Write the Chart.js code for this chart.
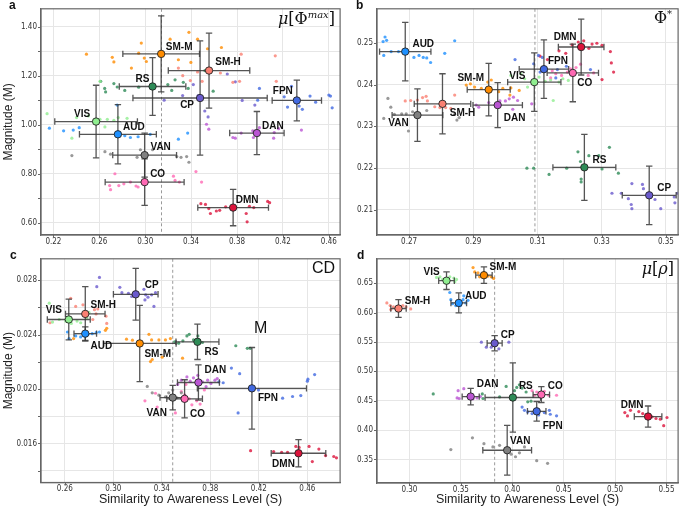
<!DOCTYPE html>
<html>
<head>
<meta charset="utf-8">
<script src="https://cdn.jsdelivr.net/npm/chart.js@4.4.0/dist/chart.umd.min.js"></script>
<style>
body { margin: 0; background: #fff; width: 683px; height: 509px; position: relative; overflow: hidden; font-family: "Liberation Sans", Arial, sans-serif; }
canvas { position: absolute; }
.tag { position: absolute; line-height: 1; color: #111; white-space: nowrap; }
.letter { font-weight: bold; font-size: 12px; }
.serif { font-family: "DejaVu Serif", serif; font-size: 16px; }
.sans { font-size: 16px; }
</style>
</head>
<body>
<canvas id="pa" width="345" height="250" style="left:0;top:0"></canvas>
<canvas id="pb" width="338" height="250" style="left:345px;top:0"></canvas>
<canvas id="pc" width="345" height="259" style="left:0;top:250px"></canvas>
<canvas id="pd" width="338" height="259" style="left:345px;top:250px"></canvas>

<div class="tag letter" style="left:9px;top:-1px">a</div>
<div class="tag letter" style="left:356px;top:-1px">b</div>
<div class="tag letter" style="left:10px;top:249px">c</div>
<div class="tag letter" style="left:357px;top:249px">d</div>
<div class="tag serif" style="right:348px;top:10px"><i>μ</i>[Φ<sup style="font-size:10px"><i>max</i></sup>]</div>
<div class="tag serif" style="right:11px;top:9px">Φ<sup style="font-size:10px">*</sup></div>
<div class="tag sans" style="right:348px;top:260px">CD</div>
<div class="tag sans" style="left:254px;top:320px">M</div>
<div class="tag serif" style="right:9px;top:261px"><i>μ</i>[<i>ρ</i>]</div>

<script>
const nets = ['VIS', 'AUD', 'SM-M', 'SM-H', 'RS', 'CP', 'FPN', 'DAN', 'VAN', 'CO', 'DMN'];
const netColors = ['#90ee90', '#1e90ff', '#ff8c00', '#fa8072', '#2e8b57', '#6a5acd', '#4169e1', '#ba55d3', '#808080', '#ff69b4', '#dc143c'];

// panel a: mu[Phi max]
const aX = [0.2572, 0.2762, 0.3139, 0.3556, 0.3064, 0.3478, 0.4321, 0.3973, 0.2995, 0.2995, 0.3766];
const aY = [1.013, 0.961, 1.289, 1.221, 1.156, 1.109, 1.099, 0.966, 0.876, 0.766, 0.662];
const aXErr = [0.036, 0.0335, 0.0334, 0.0355, 0.029, 0.0585, 0.0215, 0.0237, 0.0278, 0.0344, 0.0308];
const aYErr = [0.148, 0.121, 0.155, 0.153, 0.118, 0.233, 0.083, 0.088, 0.09, 0.095, 0.074];
const aXTicks = [0.22, 0.26, 0.30, 0.34, 0.38, 0.42, 0.46];
const aYTicks = [0.60, 0.70, 0.80, 0.90, 1.00, 1.10, 1.20, 1.30, 1.40];
const aYLabels = [0.60, 0.80, 1.00, 1.20, 1.40];
const aAware = 0.3142;
const aDots = {
    'VIS': [[0.2145, 1.045], [0.2361, 0.945], [0.2402, 1.029], [0.2505, 1.036], [0.2606, 1.022], [0.2649, 0.991], [0.267, 1.022], [0.2727, 1.018], [0.2765, 1.029], [0.2842, 1.026], [0.2606, 1.177]],
    'AUD': [[0.2165, 0.986], [0.2289, 0.975], [0.2373, 0.978], [0.2425, 0.988], [0.2756, 1.080], [0.2822, 0.955], [0.2871, 0.948], [0.2938, 0.951], [0.3044, 0.961], [0.337, 0.966], [0.3289, 0.941]],
    'SM-M': [[0.2488, 1.288], [0.2713, 1.275], [0.2727, 1.256], [0.288, 1.231], [0.2966, 1.333], [0.2943, 1.292], [0.2992, 1.272], [0.301, 1.258], [0.3217, 1.349], [0.3289, 1.265], [0.3381, 1.377], [0.3456, 1.349], [0.3543, 1.310], [0.3664, 1.315], [0.3398, 1.254]],
    'SM-H': [[0.3327, 1.200], [0.3393, 1.180], [0.3456, 1.215], [0.3496, 1.177], [0.3655, 1.211], [0.3764, 1.173], [0.3836, 1.288], [0.3822, 1.177], [0.4133, 1.281], [0.4142, 1.177], [0.3289, 1.231]],
    'RS': [[0.2612, 1.177], [0.2647, 1.148], [0.2655, 1.134], [0.2727, 1.168], [0.2756, 1.154], [0.2822, 1.140], [0.2943, 1.153], [0.3197, 1.164], [0.3231, 1.140], [0.326, 1.183], [0.3332, 1.173], [0.3375, 1.148], [0.3592, 1.137], [0.352, 1.221]],
    'CP': [[0.3165, 1.100], [0.3326, 1.119], [0.3419, 1.164], [0.3462, 1.119], [0.3519, 1.056], [0.3548, 1.032], [0.3715, 1.207], [0.3785, 1.175], [0.3845, 1.099], [0.3955, 1.080]],
    'FPN': [[0.3995, 1.148], [0.398, 1.100], [0.4211, 1.114], [0.4274, 1.157], [0.424, 1.072], [0.4341, 1.076], [0.4369, 1.063], [0.4436, 1.117], [0.4485, 1.092], [0.46, 1.121], [0.4629, 1.069], [0.4614, 1.117]],
    'DAN': [[0.3534, 1.002], [0.3554, 0.982], [0.3764, 0.948], [0.3785, 0.945], [0.3836, 0.966], [0.3937, 0.975], [0.3995, 0.988], [0.4124, 0.968], [0.4162, 0.984], [0.4119, 0.945], [0.4361, 0.978], [0.3943, 0.948]],
    'VAN': [[0.2361, 0.874], [0.2649, 0.890], [0.2698, 0.880], [0.2958, 0.898], [0.3064, 0.898], [0.3275, 0.870], [0.3312, 0.867], [0.3361, 0.870], [0.3381, 0.847], [0.2929, 0.867]],
    'CO': [[0.2736, 0.800], [0.269, 0.752], [0.2698, 0.735], [0.277, 0.752], [0.2814, 0.759], [0.2871, 0.766], [0.292, 0.750], [0.2938, 0.746], [0.3246, 0.790], [0.326, 0.773], [0.3298, 0.766], [0.3442, 0.809], [0.3491, 0.766]],
    'DMN': [[0.3485, 0.678], [0.3525, 0.675], [0.3554, 0.658], [0.3568, 0.638], [0.362, 0.648], [0.3649, 0.651], [0.3701, 0.665], [0.388, 0.638], [0.3888, 0.604], [0.3908, 0.667], [0.3946, 0.662], [0.4067, 0.687], [0.4084, 0.682]]
};
const aLabelOff = [[-14, -7], [16, -7], [18, -7], [19, -8], [-10, -7], [-13, 7], [-14, -9], [16, -7], [16, -8], [13, -8], [14, -7]];

// panel b: Phi*
const bX = [0.309, 0.2688, 0.2948, 0.2804, 0.3246, 0.3448, 0.312, 0.2976, 0.2726, 0.321, 0.3236];
const bY = [0.2406, 0.2479, 0.2388, 0.2354, 0.2202, 0.2135, 0.2437, 0.2351, 0.2327, 0.2428, 0.249];
const bXErr = [0.0083, 0.008, 0.0067, 0.0088, 0.0098, 0.0084, 0.0077, 0.0077, 0.0079, 0.008, 0.0071];
const bYErr = [0.007, 0.007, 0.0063, 0.0072, 0.0079, 0.007, 0.007, 0.0054, 0.0063, 0.0069, 0.0067];
const bXTicks = [0.27, 0.29, 0.31, 0.33, 0.35];
const bYTicks = [0.21, 0.22, 0.23, 0.24, 0.25];
const bYLabels = bYTicks;
const bAware = 0.3092;
const bDots = {
    'VIS': [[0.3017, 0.2422], [0.3048, 0.2426], [0.306, 0.2414], [0.3069, 0.2394], [0.3105, 0.2418], [0.3124, 0.2408], [0.3141, 0.2411], [0.3149, 0.2362], [0.3167, 0.2406], [0.3179, 0.2414], [0.3196, 0.241]],
    'AUD': [[0.2619, 0.2503], [0.2625, 0.2514], [0.263, 0.2506], [0.2621, 0.247], [0.2644, 0.2479], [0.2667, 0.2479], [0.2715, 0.2465], [0.2731, 0.247], [0.2744, 0.2465], [0.2755, 0.2464], [0.2767, 0.2453], [0.2811, 0.2475], [0.2842, 0.2505]],
    'SM-M': [[0.2878, 0.2399], [0.2891, 0.2402], [0.2904, 0.2394], [0.2925, 0.2391], [0.2945, 0.2406], [0.2956, 0.2411], [0.2979, 0.2383], [0.2992, 0.2391], [0.3017, 0.2392], [0.3043, 0.2386], [0.3014, 0.2375]],
    'SM-H': [[0.2688, 0.2361], [0.2705, 0.2362], [0.2726, 0.2363], [0.2742, 0.2369], [0.2753, 0.2372], [0.2757, 0.2361], [0.278, 0.2347], [0.2796, 0.2345], [0.2814, 0.2345], [0.283, 0.2343], [0.2842, 0.2375]],
    'RS': [[0.3067, 0.22], [0.3088, 0.22], [0.3136, 0.2185], [0.3191, 0.22], [0.3226, 0.2239], [0.3234, 0.2216], [0.3236, 0.2174], [0.3236, 0.2167], [0.326, 0.223], [0.3291, 0.223], [0.3301, 0.2198], [0.3324, 0.225], [0.3352, 0.2188]],
    'CP': [[0.3332, 0.214], [0.3361, 0.214], [0.3383, 0.2127], [0.3392, 0.2113], [0.3394, 0.2103], [0.3394, 0.2163], [0.3427, 0.2161], [0.343, 0.2151], [0.3466, 0.2125], [0.3484, 0.2103], [0.3526, 0.2131], [0.3528, 0.2117], [0.3536, 0.214]],
    'FPN': [[0.303, 0.246], [0.3088, 0.245], [0.3103, 0.247], [0.3115, 0.2465], [0.3162, 0.2436], [0.319, 0.2444], [0.3265, 0.2436], [0.3108, 0.243], [0.3157, 0.2416]],
    'DAN': [[0.2909, 0.2351], [0.2917, 0.2346], [0.2948, 0.2357], [0.2971, 0.2353], [0.2983, 0.2361], [0.3, 0.2361], [0.3012, 0.2366], [0.3025, 0.237], [0.3038, 0.2362], [0.3023, 0.2341], [0.3082, 0.2354]],
    'VAN': [[0.2634, 0.2367], [0.2643, 0.2346], [0.2621, 0.2319], [0.2654, 0.2329], [0.2677, 0.233], [0.2691, 0.233], [0.2698, 0.2289], [0.2711, 0.2335], [0.2755, 0.2338], [0.2842, 0.2329], [0.2849, 0.2315], [0.2856, 0.2321]],
    'CO': [[0.3146, 0.2433], [0.3157, 0.2426], [0.3175, 0.2422], [0.3193, 0.243], [0.322, 0.2441], [0.3234, 0.2449], [0.3258, 0.2422], [0.3275, 0.2428], [0.3141, 0.2416], [0.3203, 0.2438]],
    'DMN': [[0.3108, 0.2468], [0.3131, 0.246], [0.3167, 0.2481], [0.3188, 0.2475], [0.3208, 0.2495], [0.3227, 0.2502], [0.3244, 0.2505], [0.326, 0.2487], [0.327, 0.2497], [0.3285, 0.2499], [0.3301, 0.2494], [0.3327, 0.2479], [0.333, 0.2452], [0.3337, 0.243], [0.3301, 0.2412]]
};
const bLabelOff = [[-17, -6], [18, -7], [-18, -11], [20, 9], [15, -7], [15, -7], [14, -8], [17, 13], [-19, 8], [12, 10], [-16, -10]];

// panel c: CD
const cX = [0.2633, 0.2769, 0.3218, 0.2769, 0.3694, 0.3185, 0.4143, 0.3702, 0.349, 0.3588, 0.4527];
const cY = [0.02511, 0.02407, 0.02335, 0.02552, 0.02347, 0.02696, 0.02005, 0.02048, 0.01937, 0.01928, 0.01528];
const cXErr = [0.0177, 0.0093, 0.03, 0.0163, 0.0177, 0.0184, 0.045, 0.0173, 0.0105, 0.0147, 0.0225];
const cYErr = [0.0015, 0.0005, 0.0028, 0.002, 0.0013, 0.0019, 0.003, 0.0013, 0.0009, 0.0014, 0.001];
const cXTicks = [0.26, 0.30, 0.34, 0.38, 0.42, 0.46];
const cYTicks = [0.014, 0.016, 0.018, 0.020, 0.022, 0.024, 0.026, 0.028];
const cYLabels = [0.016, 0.020, 0.024, 0.028];
const cAware = 0.349;
const cDots = {
    'VIS': [[0.2472, 0.02631], [0.2499, 0.02492], [0.2554, 0.02511], [0.2608, 0.02499], [0.2654, 0.02482], [0.2701, 0.02499], [0.2731, 0.02487], [0.2799, 0.02564], [0.2782, 0.02523]],
    'AUD': [[0.2622, 0.02419], [0.2635, 0.02371], [0.269, 0.0239], [0.2731, 0.02383], [0.2791, 0.02402], [0.2826, 0.02407], [0.2859, 0.02414], [0.2886, 0.02419]],
    'SM-M': [[0.2673, 0.02371], [0.2935, 0.02431], [0.2946, 0.02446], [0.3109, 0.02366], [0.3158, 0.02359], [0.3294, 0.02402], [0.3316, 0.02361], [0.3307, 0.02202], [0.3321, 0.02217], [0.3376, 0.02361], [0.343, 0.02361], [0.3471, 0.02371], [0.3571, 0.02227], [0.3403, 0.02234]],
    'SM-H': [[0.2649, 0.02667], [0.269, 0.02607], [0.275, 0.02619], [0.2845, 0.02583], [0.2872, 0.02588], [0.2858, 0.02552], [0.294, 0.02535], [0.2946, 0.02482], [0.2478, 0.02487], [0.2831, 0.02511]],
    'RS': [[0.3506, 0.02347], [0.3539, 0.02337], [0.3574, 0.02354], [0.3607, 0.0239], [0.3626, 0.02402], [0.3661, 0.02361], [0.3697, 0.0239], [0.3735, 0.02342], [0.401, 0.02318], [0.4105, 0.02299], [0.4129, 0.02299]],
    'CP': [[0.2886, 0.0282], [0.2864, 0.02752], [0.3054, 0.02747], [0.3071, 0.02708], [0.3125, 0.02704], [0.3152, 0.0268], [0.3253, 0.02733], [0.3267, 0.02692], [0.3286, 0.02675], [0.3316, 0.02692], [0.3335, 0.02607], [0.3348, 0.02708], [0.3261, 0.02655]],
    'FPN': [[0.3871, 0.02053], [0.3906, 0.02046], [0.3974, 0.02154], [0.4042, 0.02113], [0.4029, 0.01824], [0.4197, 0.01993], [0.4396, 0.01933], [0.4478, 0.01945], [0.4546, 0.01952], [0.46, 0.02058], [0.4605, 0.02072], [0.466, 0.02106]],
    'DAN': [[0.3531, 0.02034], [0.3561, 0.02065], [0.3607, 0.02089], [0.3634, 0.02058], [0.3661, 0.02082], [0.3697, 0.02101], [0.3735, 0.02053], [0.3778, 0.02065], [0.3805, 0.02041], [0.3838, 0.02065], [0.3857, 0.02077], [0.3765, 0.02017]],
    'VAN': [[0.328, 0.02019], [0.3321, 0.01972], [0.3376, 0.01955], [0.343, 0.01943], [0.3457, 0.01972], [0.349, 0.01992], [0.3525, 0.01936], [0.3561, 0.01972]],
    'CO': [[0.3261, 0.01913], [0.3348, 0.01969], [0.3362, 0.01867], [0.3512, 0.01824], [0.3561, 0.01981], [0.3588, 0.01957], [0.3626, 0.01928], [0.3648, 0.01884], [0.3688, 0.01913], [0.3716, 0.01889], [0.3599, 0.02034], [0.3751, 0.01993]],
    'DMN': [[0.4132, 0.01547], [0.4322, 0.0154], [0.4388, 0.01535], [0.4437, 0.01535], [0.4505, 0.01578], [0.4532, 0.01571], [0.4614, 0.01578], [0.4641, 0.01467], [0.4695, 0.01559], [0.475, 0.01511], [0.4818, 0.01504], [0.484, 0.01494]]
};
const cLabelOff = [[-15, -9], [16, 13], [18, 11], [18, -9], [14, 10], [16, -9], [16, 10], [17, -12], [-16, 16], [13, 15], [-15, 11]];

// panel d: mu[rho]
const dX = [0.3361, 0.348, 0.3725, 0.2894, 0.4006, 0.3829, 0.4238, 0.3596, 0.3951, 0.4283, 0.5321];
const dY = [0.6545, 0.6166, 0.6639, 0.6071, 0.4555, 0.548, 0.432, 0.4571, 0.3657, 0.4605, 0.4231];
const dXErr = [0.0076, 0.0076, 0.008, 0.0075, 0.027, 0.0073, 0.009, 0.0083, 0.0237, 0.008, 0.0134];
const dYErr = [0.015, 0.017, 0.014, 0.015, 0.059, 0.013, 0.0167, 0.014, 0.0424, 0.0135, 0.018];
const dXTicks = [0.30, 0.35, 0.40, 0.45, 0.50, 0.55];
const dYTicks = [0.35, 0.40, 0.45, 0.50, 0.55, 0.60, 0.65];
const dYLabels = dYTicks;
const dAware = 0.3829;
const dDots = {
    'VIS': [[0.3264, 0.66], [0.3297, 0.6611], [0.3322, 0.6567], [0.3393, 0.6611], [0.3432, 0.6589], [0.3458, 0.6567], [0.3442, 0.6528]],
    'AUD': [[0.3393, 0.6344], [0.3403, 0.6221], [0.3419, 0.6154], [0.3451, 0.6121], [0.3496, 0.6121], [0.3522, 0.6221], [0.3548, 0.6166], [0.357, 0.621], [0.3529, 0.6288]],
    'SM-M': [[0.3619, 0.6768], [0.3635, 0.6695], [0.3667, 0.6678], [0.3683, 0.6611], [0.3764, 0.6623], [0.3796, 0.6611], [0.3819, 0.6584]],
    'SM-H': [[0.2781, 0.6166], [0.2813, 0.6121], [0.2845, 0.6099], [0.2871, 0.6054], [0.2936, 0.6121], [0.2968, 0.6099], [0.3013, 0.6065], [0.2819, 0.6054]],
    'RS': [[0.3232, 0.4616], [0.3709, 0.4616], [0.3716, 0.4538], [0.3877, 0.4566], [0.3941, 0.4744], [0.4044, 0.4727], [0.407, 0.4772], [0.4096, 0.4716], [0.4135, 0.4649], [0.4151, 0.4482], [0.4183, 0.4493], [0.4022, 0.4672]],
    'CP': [[0.37, 0.5497], [0.3748, 0.5413], [0.3796, 0.5413], [0.387, 0.5385], [0.3967, 0.5497], [0.3845, 0.5452]],
    'FPN': [[0.4096, 0.4393], [0.4119, 0.4337], [0.4151, 0.4309], [0.4193, 0.4282], [0.4257, 0.4259], [0.4312, 0.4298], [0.4361, 0.4337], [0.437, 0.427], [0.4431, 0.4243]],
    'DAN': [[0.3474, 0.4672], [0.3464, 0.4549], [0.3484, 0.4538], [0.3529, 0.4705], [0.3571, 0.4577], [0.3619, 0.4532], [0.3658, 0.4549], [0.369, 0.4571]],
    'VAN': [[0.3403, 0.3668], [0.3613, 0.3869], [0.3725, 0.3769], [0.3812, 0.3713], [0.3941, 0.3657], [0.399, 0.359], [0.4032, 0.3546], [0.407, 0.3613], [0.4119, 0.3713], [0.4238, 0.3479], [0.4344, 0.3434], [0.3877, 0.3741]],
    'CO': [[0.4193, 0.4672], [0.4238, 0.4649], [0.428, 0.4616], [0.4312, 0.466], [0.4354, 0.4594], [0.4431, 0.4594], [0.4215, 0.4594]],
    'DMN': [[0.5095, 0.4298], [0.5121, 0.4242], [0.515, 0.4337], [0.5231, 0.4315], [0.5269, 0.4282], [0.536, 0.4226], [0.5398, 0.4198], [0.544, 0.4187], [0.5473, 0.4075], [0.5505, 0.4215]]
};
const dLabelOff = [[-15, -8], [17, -7], [19, -8], [19, -7], [13, -11], [13, -8], [16, 15], [17, -12], [13, -9], [14, -8], [-16, -11]];

const tickFont = { family: '"DejaVu Sans Condensed", "DejaVu Sans", sans-serif', size: 8 };
const titleFamily = '"Liberation Sans", Arial, sans-serif';

function withAlpha(hex, a) {
    const n = parseInt(hex.slice(1), 16);
    return `rgba(${(n >> 16) & 255}, ${(n >> 8) & 255}, ${n & 255}, ${a})`;
}

function extrasPlugin(p) {
    return {
        id: 'extras',
        beforeDatasetsDraw(chart) {
            const { ctx, chartArea, scales } = chart;
            const px = scales.x.getPixelForValue(p.aware);
            ctx.save();
            ctx.strokeStyle = '#9a9a9a';
            ctx.lineWidth = 1;
            ctx.setLineDash([3, 2.5]);
            ctx.beginPath();
            ctx.moveTo(px, chartArea.top);
            ctx.lineTo(px, chartArea.bottom);
            ctx.stroke();
            ctx.restore();
        },
        beforeDatasetDraw(chart, args) {
            if (args.index !== 0) return;
            const { ctx, scales } = chart;
            const cap = 3.2;
            ctx.save();
            ctx.strokeStyle = 'rgba(55, 55, 55, 0.85)';
            ctx.lineWidth = 1.3;
            p.x.forEach((xv, i) => {
                const cx = scales.x.getPixelForValue(xv);
                const cy = scales.y.getPixelForValue(p.y[i]);
                const x0 = scales.x.getPixelForValue(xv - p.xErr[i]);
                const x1 = scales.x.getPixelForValue(xv + p.xErr[i]);
                const y0 = scales.y.getPixelForValue(p.y[i] - p.yErr[i]);
                const y1 = scales.y.getPixelForValue(p.y[i] + p.yErr[i]);
                ctx.beginPath();
                ctx.moveTo(x0, cy); ctx.lineTo(x1, cy);
                ctx.moveTo(x0, cy - cap); ctx.lineTo(x0, cy + cap);
                ctx.moveTo(x1, cy - cap); ctx.lineTo(x1, cy + cap);
                ctx.moveTo(cx, y0); ctx.lineTo(cx, y1);
                ctx.moveTo(cx - cap, y0); ctx.lineTo(cx + cap, y0);
                ctx.moveTo(cx - cap, y1); ctx.lineTo(cx + cap, y1);
                ctx.stroke();
            });
            ctx.restore();
        },
        afterDatasetsDraw(chart) {
            const { ctx, chartArea, scales } = chart;
            ctx.save();
            ctx.font = 'bold 10px "Liberation Sans", Arial, sans-serif';
            ctx.fillStyle = '#111';
            ctx.textAlign = 'center';
            ctx.textBaseline = 'middle';
            nets.forEach((name, i) => {
                const cx = scales.x.getPixelForValue(p.x[i]);
                const cy = scales.y.getPixelForValue(p.y[i]);
                ctx.fillText(name, cx + p.labelOff[i][0], cy + p.labelOff[i][1]);
            });
            // frame and small outward tick marks
            ctx.strokeStyle = '#666';
            ctx.lineWidth = 1.2;
            ctx.strokeRect(chartArea.left, chartArea.top, chartArea.right - chartArea.left, chartArea.bottom - chartArea.top);
            ctx.lineWidth = 1;
            ctx.beginPath();
            scales.x.ticks.forEach(t => {
                const px = Math.round(scales.x.getPixelForValue(t.value)) + 0.5;
                ctx.moveTo(px, chartArea.bottom);
                ctx.lineTo(px, chartArea.bottom + 3);
            });
            scales.y.ticks.forEach(t => {
                const py = Math.round(scales.y.getPixelForValue(t.value)) + 0.5;
                ctx.moveTo(chartArea.left, py);
                ctx.lineTo(chartArea.left - 3, py);
            });
            ctx.stroke();
            ctx.restore();
        }
    };
}

function makePanel(id, p) {
    const datasets = [{
        data: p.x.map((x, i) => ({ x: x, y: p.y[i] })),
        pointRadius: 3.7,
        pointBackgroundColor: netColors,
        pointBorderColor: '#222',
        pointBorderWidth: 0.9,
        showLine: false
    }];
    nets.forEach((name, i) => {
        datasets.push({
            data: p.dots[name].map(d => ({ x: d[0], y: d[1] })),
            pointRadius: 1.6,
            pointBackgroundColor: withAlpha(netColors[i], 0.8),
            pointBorderWidth: 0,
            showLine: false
        });
    });

    new Chart(document.getElementById(id), {
        type: 'scatter',
        data: { datasets: datasets },
        options: {
            responsive: false,
            animation: false,
            devicePixelRatio: 1,
            layout: { padding: { top: p.padTop, right: p.padRight, left: 0, bottom: 0 } },
            plugins: { legend: { display: false }, tooltip: { enabled: false } },
            scales: {
                x: {
                    type: 'linear',
                    min: p.xMin,
                    max: p.xMax,
                    afterBuildTicks: s => { s.ticks = p.xTicks.map(v => ({ value: v })); },
                    afterFit: s => { s.height = p.xHeight; },
                    ticks: { font: tickFont, color: '#333', padding: 2, maxRotation: 0, autoSkip: false, callback: v => v.toFixed(p.xDigits) },
                    grid: { color: '#e6e6e6', drawTicks: false },
                    border: { color: '#666', width: 1.2 },
                    title: { display: !!p.xTitle, text: p.xTitle, font: { family: titleFamily, size: 12.5 }, color: '#222', padding: { top: 2, bottom: 2 } }
                },
                y: {
                    type: 'linear',
                    min: p.yMin,
                    max: p.yMax,
                    afterBuildTicks: s => { s.ticks = p.yTicks.map(v => ({ value: v })); },
                    afterFit: s => { s.width = p.yWidth; },
                    ticks: {
                        font: tickFont, color: '#333', padding: 4, autoSkip: false,
                        callback: v => p.yLabels.some(l => Math.abs(l - v) < 1e-9) ? v.toFixed(p.yDigits) : ''
                    },
                    grid: { color: '#e6e6e6', drawTicks: false },
                    border: { color: '#666', width: 1.2 },
                    title: { display: !!p.yTitle, text: p.yTitle, font: { family: titleFamily, size: 12 }, color: '#222', padding: { top: 1, bottom: 2 } }
                }
            }
        },
        plugins: [extrasPlugin(p)]
    });
}

makePanel('pa', {
    x: aX, y: aY, xErr: aXErr, yErr: aYErr, dots: aDots, labelOff: aLabelOff, aware: aAware,
    xMin: 0.2092, xMax: 0.4698, yMin: 0.5502, yMax: 1.4729, xTicks: aXTicks, yTicks: aYTicks, yLabels: aYLabels, xDigits: 2, yDigits: 2,
    padTop: 7, padRight: 2, xHeight: 15, yWidth: 41, yTitle: 'Magnitude (M)'
});
makePanel('pb', {
    x: bX, y: bY, xErr: bXErr, yErr: bYErr, dots: bDots, labelOff: bLabelOff, aware: bAware,
    xMin: 0.2600, xMax: 0.3538, yMin: 0.2040, yMax: 0.25815, xTicks: bXTicks, yTicks: bYTicks, yLabels: bYLabels, xDigits: 2, yDigits: 2,
    padTop: 7, padRight: 3, xHeight: 15, yWidth: 32
});
makePanel('pc', {
    x: cX, y: cY, xErr: cXErr, yErr: cYErr, dots: cDots, labelOff: cLabelOff, aware: cAware,
    xMin: 0.2404, xMax: 0.487, yMin: 0.01313, yMax: 0.02957, xTicks: cXTicks, yTicks: cYTicks, yLabels: cYLabels, xDigits: 2, yDigits: 3,
    padTop: 5, padRight: 2, xHeight: 26.5, yWidth: 41, yTitle: 'Magnitude (M)', xTitle: 'Similarity to Awareness Level (S)'
});
makePanel('pd', {
    x: dX, y: dY, xErr: dXErr, yErr: dYErr, dots: dDots, labelOff: dLabelOff, aware: dAware,
    xMin: 0.2685, xMax: 0.5613, yMin: 0.3099, yMax: 0.6918, xTicks: dXTicks, yTicks: dYTicks, yLabels: dYLabels, xDigits: 2, yDigits: 2,
    padTop: 5, padRight: 3, xHeight: 26, yWidth: 32, xTitle: 'Similarity to Awareness Level (S)'
});
</script>
</body>
</html>
